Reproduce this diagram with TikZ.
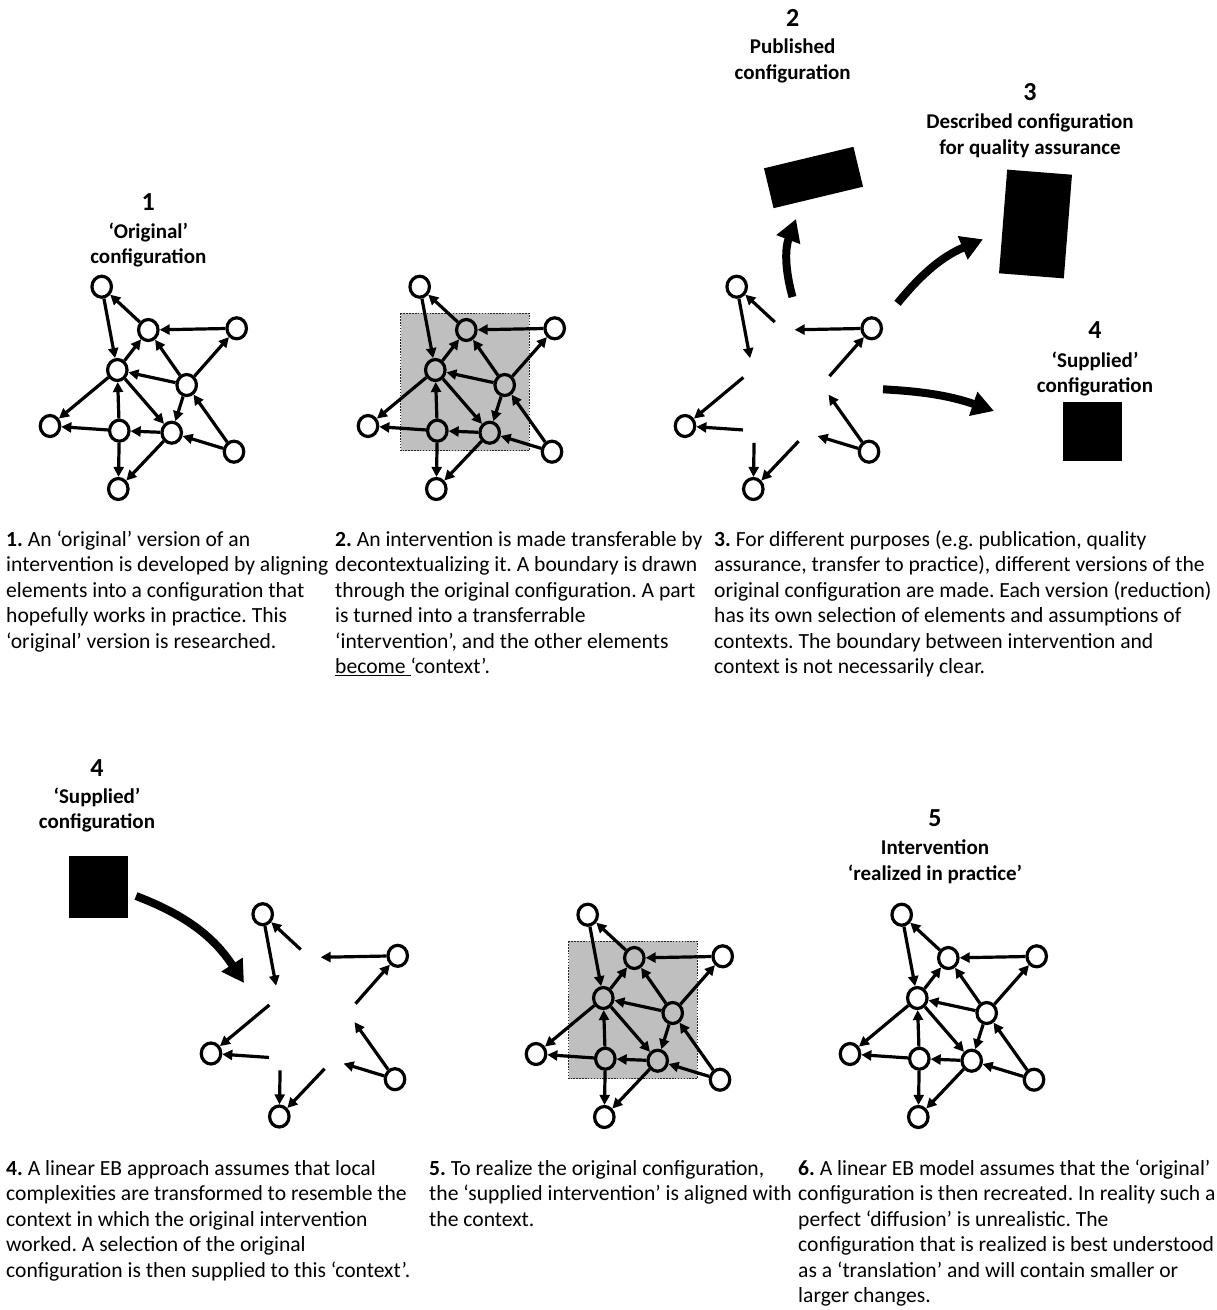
\documentclass[tikz,border=0pt]{standalone}
\usepackage{fontspec}
\setmainfont{Carlito}
\usetikzlibrary{arrows.meta,shapes.geometric}
\definecolor{boxgrey}{RGB}{191,191,191}
\frenchspacing
\newcommand\cfgnodes[3]{%
  \node[#2] (#1A) at (101.7,286.7) {};
  \node[#3] (#1B) at (148.3,330) {};
  \node[#2] (#1C) at (236.7,328.3) {};
  \node[#3] (#1D) at (117.3,370) {};
  \node[#3] (#1E) at (186.7,385) {};
  \node[#2] (#1F) at (50,426) {};
  \node[#3] (#1G) at (119.3,430.7) {};
  \node[#3] (#1H) at (171.7,432.7) {};
  \node[#2] (#1I) at (234,451.7) {};
  \node[#2] (#1J) at (118.3,489) {};
}
\newcommand\cfgouter[1]{%
  \draw[edgearr] (#1B) -- (#1A);
  \draw[edgearr] (#1A) -- (#1D);
  \draw[edgearr] (#1C) -- (#1B);
  \draw[edgearr] (#1E) -- (#1C);
  \draw[edgearr] (#1D) -- (#1F);
  \draw[edgearr] (#1G) -- (#1F);
  \draw[edgearr] (#1G) -- (#1J);
  \draw[edgearr] (#1H) -- (#1J);
  \draw[edgearr] (#1I) -- (#1H);
  \draw[edgearr] (#1I) -- (#1E);
}
\newcommand\cfginner[1]{%
  \draw[edgearr] (#1D) -- (#1B);
  \draw[edgearr] (#1E) -- (#1B);
  \draw[edgearr] (#1E) -- (#1D);
  \draw[edgearr] (#1D) -- (#1H);
  \draw[edgearr] (#1G) -- (#1D);
  \draw[edgearr] (#1H) -- (#1G);
  \draw[edgearr] (#1E) -- (#1H);
}
\newcommand\cfgbound{\draw[boundary] (82.7,313.3) rectangle (211.3,450.7);}
\begin{document}
\frenchspacing
\begin{tikzpicture}[x=1pt,y=-1pt,
  el/.style={ellipse,draw,line width=3.2pt,fill=white,minimum width=19.5pt,minimum height=21pt,inner sep=0pt,outer sep=1.6pt},
  ghost/.style={ellipse,minimum width=19.5pt,minimum height=21pt,inner sep=0pt,outer sep=1.6pt},
  inel/.style={el,fill=boxgrey},
  edgearr/.style={line width=3.2pt,-{Triangle[length=10pt,width=10pt]}},
  bigarr/.style={line width=8pt,-{Triangle[length=22pt,width=24pt]}},
  boundary/.style={fill=boxgrey,draw=black!85,line width=1.5pt,dash pattern=on 1.5pt off 1.4pt},
  num/.style={font=\fontsize{26}{30}\selectfont\bfseries,anchor=base,inner sep=0pt},
  lab/.style={font=\fontsize{21}{25.5}\selectfont\bfseries,anchor=base,inner sep=0pt},
  body/.style={font=\fontsize{21.6}{25.5}\selectfont\frenchspacing,align=left,anchor=north west,inner sep=0pt},
  blk/.style={fill=black,inner sep=0pt,outer sep=0pt}
]
\fill[white] (0,0) rectangle (1217,1310);
\useasboundingbox (0,0) rectangle (1217,1310);

% ---------- graph 1 ----------
\node[num] (n1) at (148.3,210) {1};
\node[lab] (n1a) at (148.3,238.3) {‘Original’};
\node[lab] (n1b) at (148.3,263.3) {configuration};
\cfgnodes{a}{el}{el}
\cfgouter{a}\cfginner{a}

% ---------- graph 2 ----------
\begin{scope}[shift={(318,0)}]
\cfgbound
\cfgnodes{b}{el}{inel}
\cfgouter{b}\cfginner{b}
\end{scope}

% ---------- graph 3 ----------
\begin{scope}[shift={(635,0)}]
\cfgnodes{c}{el}{ghost}
\cfgouter{c}
\end{scope}

\node[num] (n2) at (792.7,26) {2};
\node[lab] (n2a) at (792.7,53.3) {Published};
\node[lab] (n2b) at (792.7,79.3) {configuration};
\node[blk,minimum width=92pt,minimum height=41pt,rotate=13.5] (pub) at (813.5,177.5) {};

\node[num] (n3) at (1030,100) {3};
\node[lab] (n3a) at (1030,128.3) {Described configuration};
\node[lab] (n3b) at (1030,154) {for quality assurance};
\node[blk,minimum width=65pt,minimum height=104pt,rotate=-4.5] (desc) at (1035.5,224) {};

\node[num] (n4) at (1095,338.3) {4};
\node[lab] (n4a) at (1095,367.3) {‘Supplied’};
\node[lab] (n4b) at (1095,392.3) {configuration};
\node[blk,minimum width=59pt,minimum height=59pt] (sup) at (1092,431.4) {};

\coordinate (s1) at (792.5,297);
\coordinate (e1) at (796,219);
\coordinate (s2) at (897.5,303.3);
\coordinate (e2) at (983,239.3);
\coordinate (s3) at (883,389.3);
\coordinate (e3) at (994,411);
\draw[bigarr] (s1) to[bend left=18] (e1);
\draw[bigarr] (s2) to[bend left=14] (e2);
\draw[bigarr] (s3) to[bend left=8] (e3);

% ---------- text row 1 ----------
\node[body] (t1) at (6,528) {\strut\textbf{1.} An ‘original’ version of an\\intervention is developed by aligning\\elements into a configuration that\\hopefully works in practice. This\\‘original’ version is researched.};
\node[body] (t2) at (335,528) {\strut\textbf{2.} An intervention is made transferable by\\decontextualizing it. A boundary is drawn\\through the original configuration. A part\\is turned into a transferrable\\‘intervention’, and the other elements\\\underline{become }‘context’.};
\node[body] (t3) at (714,528) {\strut\textbf{3.} For different purposes (e.g. publication, quality\\assurance, transfer to practice), different versions of the\\original configuration are made. Each version (reduction)\\has its own selection of elements and assumptions of\\contexts. The boundary between intervention and\\context is not necessarily clear.};

% ---------- graph 4 ----------
\node[num] (n5) at (97,776) {4};
\node[lab] (n5a) at (97,803) {‘Supplied’};
\node[lab] (n5b) at (97,828.5) {configuration};
\node[blk,minimum width=59pt,minimum height=62pt] (sup2) at (98,887) {};
\begin{scope}[shift={(161,627.5)}]
\cfgnodes{d}{el}{ghost}
\cfgouter{d}
\end{scope}
\coordinate (s4) at (136,896);
\coordinate (e4) at (244,983);
\draw[bigarr] (s4) to[bend left=18] (e4);

% ---------- graph 5 ----------
\begin{scope}[shift={(486,628)}]
\cfgbound
\cfgnodes{e}{el}{inel}
\cfgouter{e}\cfginner{e}
\end{scope}

% ---------- graph 6 ----------
\node[num] (n6) at (935,826.5) {5};
\node[lab] (n6a) at (935,854.5) {Intervention};
\node[lab] (n6b) at (935,880) {‘realized in practice’};
\begin{scope}[shift={(800,628)}]
\cfgnodes{f}{el}{el}
\cfgouter{f}\cfginner{f}
\end{scope}

% ---------- text row 2 ----------
\node[body] (t4) at (6,1157) {\strut\textbf{4.} A linear EB approach assumes that local\\complexities are transformed to resemble the\\context in which the original intervention\\worked. A selection of the original\\configuration is then supplied to this ‘context’.};
\node[body] (t5) at (429,1157) {\strut\textbf{5.} To realize the original configuration,\\the ‘supplied intervention’ is aligned with\\the context.};
\node[body] (t6) at (798,1157) {\strut\textbf{6.} A linear EB model assumes that the ‘original’\\configuration is then recreated. In reality such a\\perfect ‘diffusion’ is unrealistic. The\\configuration that is realized is best understood\\as a ‘translation’ and will contain smaller or\\larger changes.};
\end{tikzpicture}
\end{document}
